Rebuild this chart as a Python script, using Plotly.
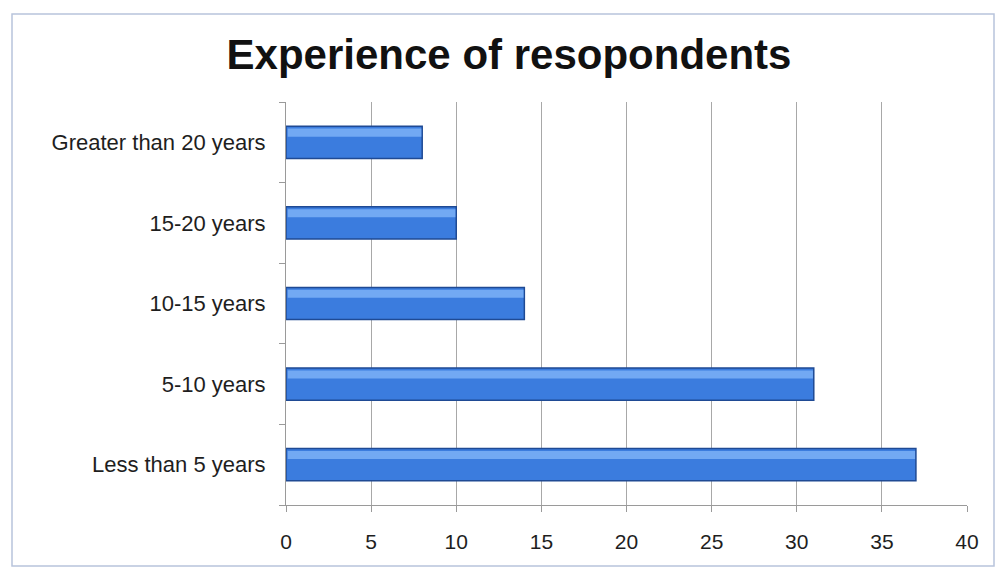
import plotly.graph_objects as go

categories = ["Less than 5 years", "5-10 years", "10-15 years", "15-20 years", "Greater than 20 years"]
respondents = [37, 31, 14, 10, 8]
x_ticks = [0, 5, 10, 15, 20, 25, 30, 35, 40]

W, H = 995, 568
L, R, T, B = 286, 28, 102, 63
pw, ph = W - L - R, H - T - B

def px_x(p):
    return (p - L) / pw

def px_y(p):
    return 1 - (p - T) / ph

fig = go.Figure()
fig.add_trace(go.Bar(
    y=categories, x=respondents, orientation="h", width=0.4,
    marker=dict(color="#3B7CDE", line=dict(color="#1F4A94", width=1.5)),
    hoverinfo="skip", showlegend=False,
))
fig.add_trace(go.Bar(
    y=categories, x=[v - 0.15 for v in respondents], base=0.1, orientation="h", width=0.1, offset=0.07,
    marker=dict(color="#72A9F3", line=dict(width=0)),
    hoverinfo="skip", showlegend=False,
))

fig.update_layout(
    width=W, height=H,
    margin=dict(l=L, r=R, t=T, b=B),
    paper_bgcolor="white", plot_bgcolor="white",
    barmode="overlay",
    title=dict(text="<b>Experience of resopondents</b>", x=509 / W, xref="container", xanchor="center",
               y=1 - 54 / H, yanchor="middle", yref="container",
               font=dict(family="Liberation Sans, Arial, sans-serif", size=42, color="#111111")),
    font=dict(family="Liberation Sans, Arial, sans-serif", size=21, color="#1E1E1E"),
    xaxis=dict(range=[0, 40], tickvals=x_ticks, showgrid=True, gridcolor="#A8A8A8", gridwidth=1,
               showline=True, linecolor="#9A9A9A", linewidth=1, ticks="outside", ticklen=6,
               tickcolor="#9A9A9A", zeroline=False, fixedrange=True, ticklabelstandoff=12),
    yaxis=dict(categoryorder="array", categoryarray=categories, showline=True, linecolor="#9A9A9A",
               linewidth=1, ticks="outside", tickson="boundaries", ticklen=6, tickcolor="#9A9A9A",
               ticklabelstandoff=15, showgrid=False, fixedrange=True,
               tickfont=dict(size=22)),
    shapes=[dict(type="rect", xref="paper", yref="paper",
                 x0=px_x(12), x1=px_x(994), y0=px_y(566), y1=px_y(14),
                 line=dict(color="#B8C4DC", width=1.5), layer="below")],
)

fig.write_html("out.html")
